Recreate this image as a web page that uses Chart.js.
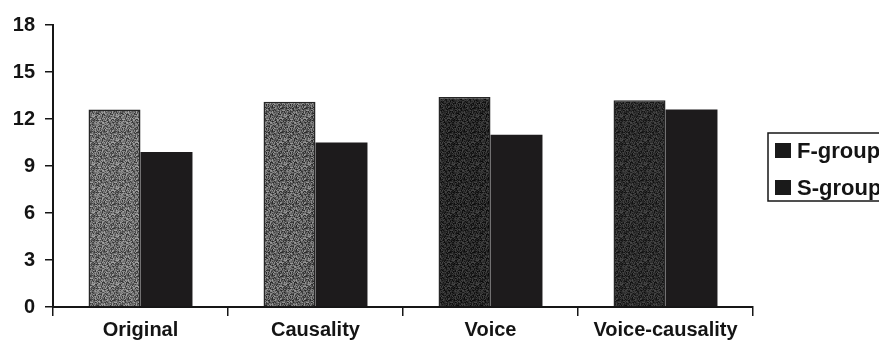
<!DOCTYPE html>
<html>
<head>
<meta charset="utf-8">
<script src="https://cdn.jsdelivr.net/npm/chart.js@4/dist/chart.umd.min.js"></script>
<style>
  html, body { margin: 0; padding: 0; background: #fff; overflow: hidden; }
  #wrap { width: 879px; height: 349px; }
</style>
</head>
<body>
<div id="wrap"><canvas id="c" width="879" height="349"></canvas></div>
<script>
const categories = ['Original', 'Causality', 'Voice', 'Voice-causality'];
const fGroup = [12.6, 13.1, 13.4, 13.2];
const sGroup = [9.9, 10.5, 11.0, 12.6];
const seriesNames = ['F-group', 'S-group'];
const yTickValues = [0, 3, 6, 9, 12, 15, 18];

const FONT = '"Liberation Sans", Arial, Helvetica, sans-serif';

// speckled grey texture (deterministic hash, purely visual)
function makePattern(base, spread) {
  const c = document.createElement('canvas');
  c.width = 24; c.height = 24;
  const x2 = c.getContext('2d');
  const img = x2.createImageData(24, 24);
  for (let y = 0; y < 24; y++) {
    for (let x = 0; x < 24; x++) {
      let h = ((x * 374761393) ^ (y * 668265263)) >>> 0;
      h = ((h ^ (h >>> 13)) * 1274126177) >>> 0;
      const r = (h % 1000) / 1000;
      const v = Math.max(0, Math.min(255, Math.round(base + (r - 0.5) * 2 * spread)));
      const i = (y * 24 + x) * 4;
      img.data[i] = v; img.data[i + 1] = v; img.data[i + 2] = v; img.data[i + 3] = 255;
    }
  }
  x2.putImageData(img, 0, 0);
  return document.getElementById('c').getContext('2d').createPattern(c, 'repeat');
}

const patLight = makePattern(108, 60);
const patMid = makePattern(96, 60);
const patDark = makePattern(40, 32);
const patDarker = makePattern(44, 30);

const legendPlugin = {
  id: 'boxLegend',
  afterDraw(chart) {
    const ctx = chart.ctx;
    ctx.save();
    ctx.strokeStyle = '#161616';
    ctx.lineWidth = 1.5;
    ctx.strokeRect(768, 133, 140, 68);
    const rows = [158, 195];
    ctx.font = 'bold 22px ' + FONT;
    ctx.textBaseline = 'alphabetic';
    ctx.textAlign = 'left';
    chart.data.datasets.forEach((ds, i) => {
      ctx.fillStyle = '#1a1a1a';
      ctx.fillRect(775, rows[i] - 15, 16, 15);
      ctx.fillStyle = '#141414';
      ctx.fillText(ds.label, 797, rows[i]);
    });
    ctx.restore();
  }
};

new Chart(document.getElementById('c'), {
  type: 'bar',
  data: {
    labels: categories,
    datasets: [
      {
        label: seriesNames[0],
        data: fGroup,
        backgroundColor: [patLight, patMid, patDark, patDarker],
        borderColor: '#262626',
        borderWidth: 1.5,
        categoryPercentage: 0.594,
        barPercentage: 1.0
      },
      {
        label: seriesNames[1],
        data: sGroup,
        backgroundColor: '#1d1b1c',
        borderWidth: 0,
        categoryPercentage: 0.594,
        barPercentage: 1.0
      }
    ]
  },
  options: {
    responsive: false,
    animation: false,
    devicePixelRatio: 1,
    layout: { padding: { left: 0, top: 25, right: 126, bottom: 0 } },
    plugins: {
      legend: { display: false },
      tooltip: { enabled: false },
      title: { display: false }
    },
    scales: {
      x: {
        offset: true,
        grid: {
          offset: true,
          drawOnChartArea: false,
          drawTicks: true,
          tickLength: 9,
          color: '#161616',
          lineWidth: 1.5
        },
        border: { display: true, color: '#161616', width: 2 },
        ticks: {
          color: '#141414',
          font: { family: FONT, size: 20, weight: 'bold' },
          padding: 2,
          maxRotation: 0,
          autoSkip: false
        },
        afterFit(scale) { scale.height = 42; }
      },
      y: {
        min: 0,
        max: 18,
        afterBuildTicks(scale) { scale.ticks = yTickValues.map(v => ({ value: v })); },
        grid: {
          drawOnChartArea: false,
          drawTicks: true,
          tickLength: 8,
          color: '#161616',
          lineWidth: 1.5
        },
        border: { display: true, color: '#161616', width: 2 },
        ticks: {
          color: '#141414',
          font: { family: FONT, size: 20, weight: 'bold' },
          padding: 10
        },
        afterFit(scale) { scale.width = 53; }
      }
    }
  },
  plugins: [legendPlugin]
});
</script>
</body>
</html>
